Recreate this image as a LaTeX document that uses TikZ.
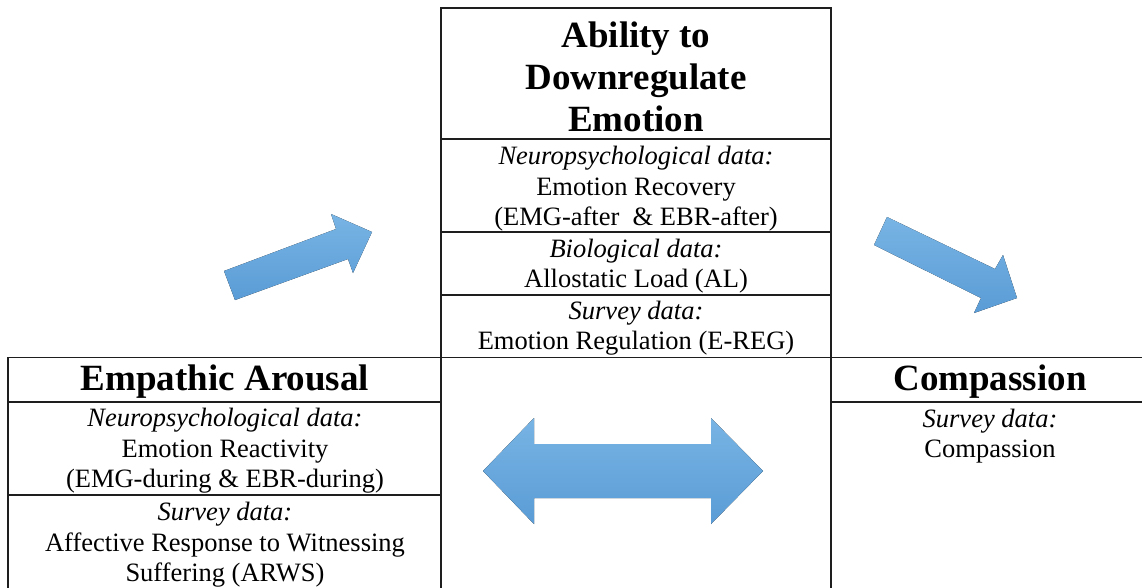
\documentclass[tikz,border=0pt]{standalone}
\usepackage{fontspec}
\setmainfont{Liberation Serif}
\definecolor{arrtop}{RGB}{120,180,228}
\definecolor{arrbot}{RGB}{90,156,214}
\definecolor{linecol}{RGB}{30,30,30}
\tikzset{
  grid/.style={draw=linecol, line width=1.2pt},
  ttl/.style={align=center, inner sep=0pt, font=\fontsize{37}{42}\selectfont\bfseries},
  txt/.style={align=center, inner sep=0pt, font=\fontsize{26.5}{30.5}\selectfont},
  blockarrow/.style={top color=arrtop, bottom color=arrbot, draw=none}
}
\begin{document}
\begin{tikzpicture}[x=1pt, y=-1pt]
\useasboundingbox (0,0) rectangle (1142,588);
% table lines
\draw[grid] (441,588) -- (441,8) -- (831,8) -- (831,588);
\draw[grid] (441,139) -- (831,139);
\draw[grid] (441,232) -- (831,232);
\draw[grid] (441,295) -- (831,295);
\draw[grid] (8,588) -- (8,357.5) -- (1142,357.5);
\draw[grid] (8,402) -- (441,402);
\draw[grid] (831,402) -- (1142,402);
\draw[grid] (8,495) -- (441,495);
% texts
\node[ttl] (abil) at (636,77) {Ability to\\Downregulate\\Emotion};
\node[txt] (neuroR) at (636,189) {\textit{Neuropsychological data:}\\Emotion Recovery\\(EMG-after \ \& EBR-after)};
\node[txt] (bio) at (636,266) {\textit{Biological data:}\\Allostatic Load (AL)};
\node[txt] (survR) at (636,328) {\textit{Survey data:}\\Emotion Regulation (E-REG)};
\node[ttl] (emp) at (225,382) {Empathic Arousal};
\node[txt] (neuroL) at (225,451) {\textit{Neuropsychological data:}\\Emotion Reactivity\\(EMG-during \& EBR-during)};
\node[txt] (survL) at (225,545) {\textit{Survey data:}\\Affective Response to Witnessing\\Suffering (ARWS)};
\node[ttl] (comp) at (990,382) {Compassion};
\node[txt] (survC) at (990,436) {\textit{Survey data:}\\Compassion};
% block arrows
\fill[blockarrow] (224,271) -- (336,229) -- (331,214) -- (372,232) -- (353,273) -- (348,259) -- (235,300) -- cycle;
\fill[blockarrow] (887,217) -- (995,269) -- (1003,255) -- (1017,298) -- (974,313) -- (981,298) -- (874,245) -- cycle;
\fill[blockarrow] (483,471) -- (534,418) -- (534,444) -- (711,444) -- (711,418) -- (763,471) -- (711,524) -- (711,498) -- (534,498) -- (534,524) -- cycle;
\end{tikzpicture}
\end{document}
